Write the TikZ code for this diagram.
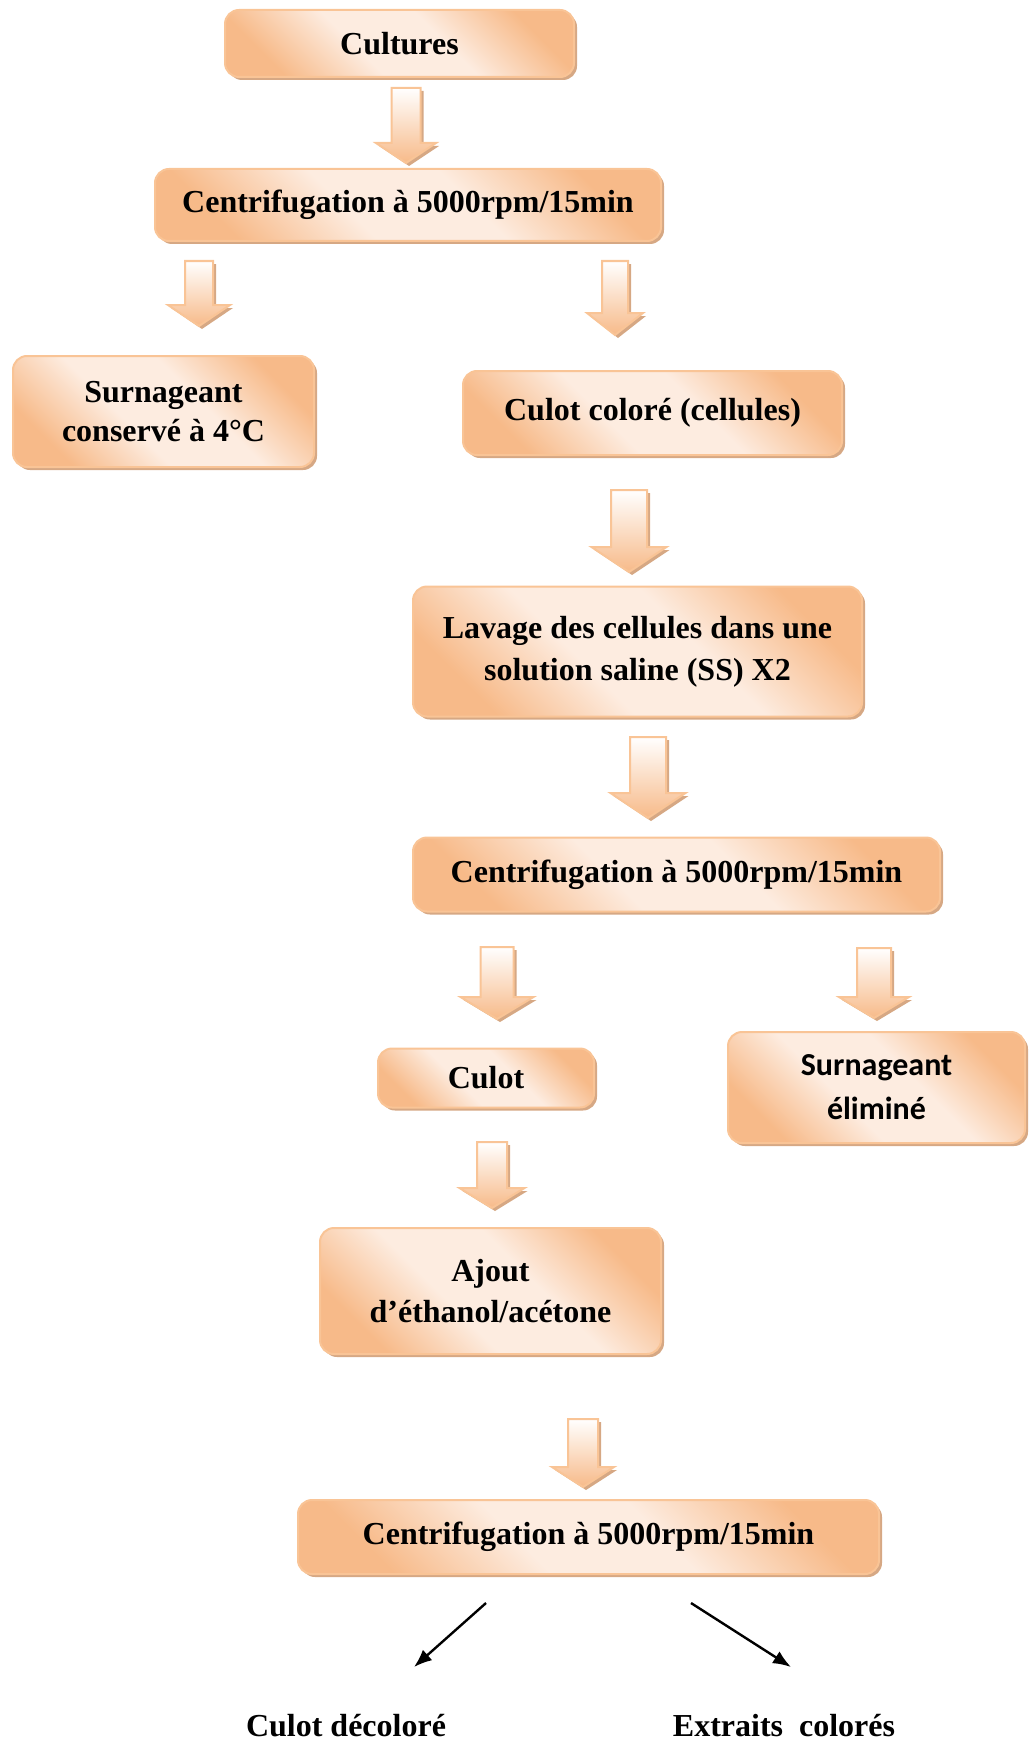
\documentclass[tikz,border=0pt]{standalone}
\usepackage{fontspec}
\setmainfont{Liberation Serif}
\newfontfamily\calibri{Carlito}
\usetikzlibrary{arrows.meta,shadows}

\definecolor{peach}{RGB}{247,186,137}
\definecolor{peachlight}{RGB}{253,236,224}
\definecolor{peachline}{RGB}{249,196,150}
\definecolor{peachshadow}{RGB}{214,168,132}
\pgfdeclareverticalshading{etapefond}{100bp}{color(0bp)=(peach); color(25bp)=(peach);
    color(42bp)=(peachlight); color(58bp)=(peachlight); color(75bp)=(peach); color(100bp)=(peach)}

\begin{document}
\begin{tikzpicture}[>={Latex[length=9pt,width=7pt]}, x=0.5pt, y=-0.5pt,
    etape/.style={draw=peachline, line width=1pt, rounded corners=7pt,
        shading=etapefond, shading angle=-45,
        drop shadow={shadow xshift=1.5pt, shadow yshift=-1.5pt, fill=peachshadow, opacity=1},
        font=\bfseries\fontsize{16}{19.5}\selectfont, align=center, inner sep=0pt},
    resultat/.style={font=\bfseries\fontsize{16}{19.5}\selectfont, inner sep=0pt},
    pics/flechebloc/.style args={#1/#2/#3/#4}{code={
        \path[draw=peachline, line width=1pt, top color=white, bottom color=peach,
            drop shadow={shadow xshift=1.5pt, shadow yshift=-1.5pt, fill=peachshadow, opacity=1}]
            (-#2,0) -- (#2,0) -- (#2,#1-#4) -- (#3,#1-#4) -- (0,#1)
            -- (-#3,#1-#4) -- (-#2,#1-#4) -- cycle;
    }}]
        \useasboundingbox (0,0) rectangle (1029,1744);

        % les etapes
        \node[etape, minimum width=174.5pt, minimum height=33.5pt] (cult) at (399.5,43.5) {Cultures};
        \node[etape, minimum width=253pt, minimum height=36pt] (centa) at (408,205) {Centrifugation à 5000rpm/15min};
        \node[etape, minimum width=150.5pt, minimum height=55.5pt] (surna) at (163.5,411.5) {Surnageant\\conservé à 4°C};
        \node[etape, minimum width=189.5pt, minimum height=42pt] (culcol) at (652.5,413) {Culot coloré (cellules)};
        \node[etape, minimum width=224.5pt, minimum height=65pt] (lavage) at (637.5,651.5) {Lavage des cellules dans une\\[1.5pt]solution saline (SS) X2};
        \node[etape, minimum width=263.5pt, minimum height=37pt] (centb) at (676.5,874.5) {Centrifugation à 5000rpm/15min};
        \node[etape, minimum width=108pt, minimum height=29.5pt] (culot) at (486,1078) {Culot};
        \node[etape, minimum width=148.5pt, minimum height=55.5pt, font=\calibri\bfseries\fontsize{16}{22}\selectfont] (surnb) at (876.5,1087.5) {Surnageant\\éliminé};
        \node[etape, minimum width=170.5pt, minimum height=63pt] (ajout) at (490.5,1291) {Ajout\\[1pt]d’éthanol/acétone};
        \node[etape, minimum width=290.5pt, minimum height=37pt] (centc) at (588.5,1537) {Centrifugation à 5000rpm/15min};

        % les fleches
        \pic (fa) at (406,88) {flechebloc=75/14.5/30/20};
        \pic (fb) at (199,261) {flechebloc=65/14/31/21};
        \pic (fc) at (615,261) {flechebloc=74/13/28/22};
        \pic (fd) at (629,490) {flechebloc=82/18/37.5/25};
        \pic (fe) at (648,737) {flechebloc=81/18/37.5/25};
        \pic (ff) at (497,947) {flechebloc=72/16.5/36.5/22};
        \pic (fg) at (874,948) {flechebloc=70/17/35/21};
        \pic (fh) at (492,1142) {flechebloc=66/15/32.5/20};
        \pic (fi) at (583,1419) {flechebloc=68/15/31/20};

        % les produits
        \node[resultat, anchor=base] (culdec) at (346,1736) {Culot décoloré};
        \node[resultat, anchor=base] (extr) at (784,1736) {Extraits\ \ colorés};
        \coordinate (ga) at (486,1603);
        \coordinate (gb) at (414,1667);
        \coordinate (da) at (691,1603);
        \coordinate (db) at (791,1667);
        \draw [->, line width=1.2pt] (ga) -- (gb);
        \draw [->, line width=1.2pt] (da) -- (db);
    \end{tikzpicture}
\end{document}
